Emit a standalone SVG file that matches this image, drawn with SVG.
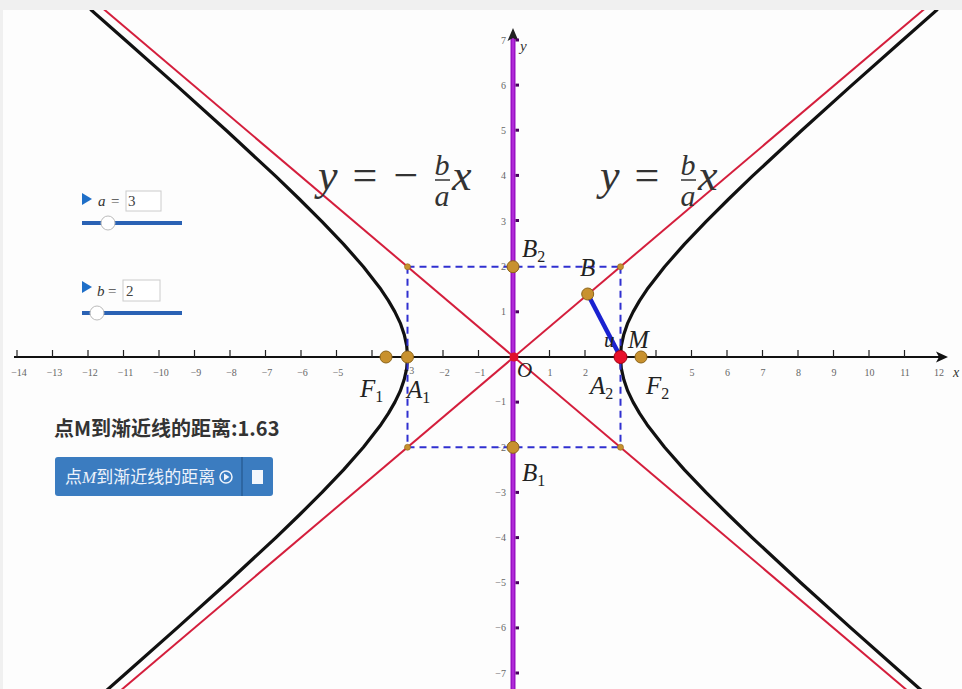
<svg xmlns="http://www.w3.org/2000/svg" width="962" height="689" viewBox="0 0 962 689">
<style>
.tick{stroke:#222;stroke-width:1.2}
.xl{font-family:"Liberation Serif",serif;font-size:10px;fill:#666;text-anchor:middle}
.yl{font-family:"Liberation Serif",serif;font-size:10px;fill:#666;text-anchor:end}
.lab{font-family:"Liberation Serif",serif;font-style:italic;font-size:25px;fill:#222}
.sub{font-size:16px;font-style:normal}
.math{font-family:"Liberation Serif",serif;font-size:44px;fill:#333}
.frac{font-family:"Liberation Serif",serif;font-style:italic;font-size:30px;fill:#333;text-anchor:middle}
.pt{fill:#c8912e;stroke:#8c6418;stroke-width:1}
.sm{fill:#c8912e;stroke:#8c6418;stroke-width:0.6}
.ydot{fill:#4a0060}
.sv{font-family:"Liberation Serif",serif;font-style:italic;font-size:15px;fill:#333}
.sn{font-family:"Liberation Serif",serif;font-size:15px;fill:#444}
</style>
<defs>
<clipPath id="plot"><rect x="3" y="10" width="959" height="679"/></clipPath>
</defs>
<rect x="0" y="0" width="962" height="689" fill="#f0f0f0"/>
<rect x="3" y="10" width="959" height="679" fill="#fdfdfd"/>

<g id="axes">
<line x1="14" y1="357" x2="940" y2="357" stroke="#111" stroke-width="2"/>
<polygon points="948,357 936,351.5 939,357 936,362.5" fill="#111"/>
<g class="tick">
<line x1="17" y1="350" x2="17" y2="357"/><line x1="52.5" y1="350" x2="52.5" y2="357"/><line x1="88" y1="350" x2="88" y2="357"/><line x1="123.5" y1="350" x2="123.5" y2="357"/><line x1="159" y1="350" x2="159" y2="357"/><line x1="194.5" y1="350" x2="194.5" y2="357"/><line x1="230" y1="350" x2="230" y2="357"/><line x1="265.5" y1="350" x2="265.5" y2="357"/><line x1="301" y1="350" x2="301" y2="357"/><line x1="336.5" y1="350" x2="336.5" y2="357"/><line x1="372" y1="350" x2="372" y2="357"/><line x1="407.5" y1="350" x2="407.5" y2="357"/><line x1="443" y1="350" x2="443" y2="357"/><line x1="478.5" y1="350" x2="478.5" y2="357"/><line x1="549.5" y1="350" x2="549.5" y2="357"/><line x1="585" y1="350" x2="585" y2="357"/><line x1="620.5" y1="350" x2="620.5" y2="357"/><line x1="656" y1="350" x2="656" y2="357"/><line x1="691.5" y1="350" x2="691.5" y2="357"/><line x1="727" y1="350" x2="727" y2="357"/><line x1="762.5" y1="350" x2="762.5" y2="357"/><line x1="798" y1="350" x2="798" y2="357"/><line x1="833.5" y1="350" x2="833.5" y2="357"/><line x1="869" y1="350" x2="869" y2="357"/><line x1="904.5" y1="350" x2="904.5" y2="357"/>
</g>
<g class="xl">
<text x="19" y="376">−14</text><text x="54.5" y="376">−13</text><text x="90" y="376">−12</text><text x="125.5" y="376">−11</text><text x="161" y="376">−10</text><text x="196" y="376">−9</text><text x="231.5" y="376">−8</text><text x="267" y="376">−7</text><text x="302.5" y="376">−6</text><text x="338" y="376">−5</text><text x="409" y="374">−3</text><text x="444.5" y="376">−2</text><text x="480" y="376">−1</text><text x="550" y="376">1</text><text x="585.5" y="376">2</text><text x="692" y="376">5</text><text x="727.5" y="376">6</text><text x="763" y="376">7</text><text x="798.5" y="376">8</text><text x="834" y="376">9</text><text x="869.5" y="376">10</text><text x="905" y="376">11</text><text x="939" y="376">12</text>
</g>
<text x="953" y="377" font-family="Liberation Serif,serif" font-style="italic" font-size="14" fill="#333">x</text>
<line x1="513" y1="36" x2="513" y2="689" stroke="#9a12c4" stroke-width="5"/>
<line x1="513" y1="36" x2="513" y2="689" stroke="#b02ad8" stroke-width="2"/>
<polygon points="513,28 507.5,41 513,38 518.5,41" fill="#222"/>
<g>
<rect class="ydot" x="515.5" y="38.5" width="3.5" height="3"/><rect class="ydot" x="515.5" y="83.6" width="3.5" height="3"/><rect class="ydot" x="515.5" y="128.7" width="3.5" height="3"/><rect class="ydot" x="515.5" y="173.9" width="3.5" height="3"/><rect class="ydot" x="515.5" y="219" width="3.5" height="3"/><rect class="ydot" x="515.5" y="310.3" width="3.5" height="3"/><rect class="ydot" x="515.5" y="400.6" width="3.5" height="3"/><rect class="ydot" x="515.5" y="490.9" width="3.5" height="3"/><rect class="ydot" x="515.5" y="536.1" width="3.5" height="3"/><rect class="ydot" x="515.5" y="581.2" width="3.5" height="3"/><rect class="ydot" x="515.5" y="626.4" width="3.5" height="3"/><rect class="ydot" x="515.5" y="671.5" width="3.5" height="3"/>
</g>
<g class="yl">
<text x="506" y="44">7</text><text x="506" y="89">6</text><text x="506" y="134">5</text><text x="506" y="179">4</text><text x="506" y="224.5">3</text><text x="506" y="270">2</text><text x="506" y="315">1</text><text x="506" y="405">−1</text><text x="506" y="451">−2</text><text x="506" y="496">−3</text><text x="506" y="541">−4</text><text x="506" y="586">−5</text><text x="506" y="631">−6</text><text x="506" y="677">−7</text>
</g>
<text x="520" y="51" font-family="Liberation Serif,serif" font-style="italic" font-size="15" fill="#333">y</text>
</g>

<g id="connectors" clip-path="url(#plot)">
<polyline id="right-branch" fill="none" stroke="#111" stroke-width="3.2" stroke-linejoin="round" points="937.6,9.35 901.7,40.95 850.8,86.1 800.8,131.25 752.1,176.4 728.7,199 706,221.55 684.5,244.1 664.6,266.7 647.1,289.3 639.6,300.6 633.1,311.85 627.7,323.1 623.8,334.4 621.3,345.7 620.5,357 621.3,368.3 623.8,379.6 627.7,390.9 633.1,402.15 639.6,413.4 647.1,424.7 664.6,447.3 684.5,469.9 706,492.45 728.7,515 752.1,537.6 800.8,582.75 850.8,627.9 901.7,673.05 937.6,704.65"/>
<polyline id="left-branch" fill="none" stroke="#111" stroke-width="3.2" stroke-linejoin="round" points="90.4,9.35 126.3,40.95 177.2,86.1 227.2,131.25 275.9,176.4 299.3,199 322,221.55 343.5,244.1 363.4,266.7 380.9,289.3 388.4,300.6 394.9,311.85 400.3,323.1 404.2,334.4 406.7,345.7 407.5,357 406.7,368.3 404.2,379.6 400.3,390.9 394.9,402.15 388.4,413.4 380.9,424.7 363.4,447.3 343.5,469.9 322,492.45 299.3,515 275.9,537.6 227.2,582.75 177.2,627.9 126.3,673.05 90.4,704.65"/>
<g fill="none" stroke="#3030d0" stroke-width="2" stroke-dasharray="7,5">
<line x1="407.5" y1="266.7" x2="620.5" y2="266.7"/>
<line x1="407.5" y1="447.3" x2="620.5" y2="447.3"/>
<line x1="407.5" y1="266.7" x2="407.5" y2="447.3"/>
<line x1="620.5" y1="266.7" x2="620.5" y2="447.3"/>
</g>
<line id="asymptote-pos" x1="0" y1="792.8" x2="962" y2="-22.9" stroke="#d41e3c" stroke-width="2"/>
<line id="asymptote-neg" x1="0" y1="-78.8" x2="962" y2="736.9" stroke="#d41e3c" stroke-width="2"/>
<line id="perpendicular" x1="587.7" y1="294" x2="620.5" y2="357" stroke="#1a22d0" stroke-width="4.5"/>
</g>

<g id="formula-left">
<text class="math" x="318" y="190" font-style="italic">y</text>
<text class="math" x="365" y="190" text-anchor="middle">=</text>
<text class="math" x="406" y="190" text-anchor="middle">−</text>
<text class="frac" x="442" y="175">b</text>
<line x1="435" y1="180" x2="450" y2="180" stroke="#333" stroke-width="1.5"/>
<text class="frac" x="442" y="206">a</text>
<text class="math" x="452" y="190" font-style="italic">x</text>
</g>
<g id="formula-right">
<text class="math" x="600" y="190" font-style="italic">y</text>
<text class="math" x="647" y="190" text-anchor="middle">=</text>
<text class="frac" x="688" y="175">b</text>
<line x1="681" y1="180" x2="696" y2="180" stroke="#333" stroke-width="1.5"/>
<text class="frac" x="688" y="206">a</text>
<text class="math" x="698" y="190" font-style="italic">x</text>
</g>

<g id="corners">
<circle class="sm" cx="407.5" cy="266.7" r="3"/>
<circle class="sm" cx="620.5" cy="266.7" r="3"/>
<circle class="sm" cx="407.5" cy="447.3" r="3"/>
<circle class="sm" cx="620.5" cy="447.3" r="3"/>
</g>
<g id="B2"><circle class="pt" cx="513" cy="266.7" r="6"/><text class="lab" x="522" y="257">B<tspan class="sub" dy="5">2</tspan></text></g>
<g id="B1"><circle class="pt" cx="513" cy="447.3" r="6"/><text class="lab" x="522" y="481">B<tspan class="sub" dy="5">1</tspan></text></g>
<g id="F1"><circle class="pt" cx="386" cy="357" r="6"/><text class="lab" x="360" y="397">F<tspan class="sub" dy="5">1</tspan></text></g>
<g id="A1"><circle class="pt" cx="407.5" cy="357" r="6"/><text class="lab" x="407" y="398">A<tspan class="sub" dy="5">1</tspan></text></g>
<g id="F2"><circle class="pt" cx="641" cy="357" r="6"/><text class="lab" x="646" y="394">F<tspan class="sub" dy="5">2</tspan></text></g>
<g id="A2"><text class="lab" x="590" y="394">A<tspan class="sub" dy="5">2</tspan></text></g>
<g id="B"><circle class="pt" cx="587.7" cy="294" r="6"/><text class="lab" x="580" y="276">B</text></g>
<g id="M"><circle cx="620.5" cy="357" r="6.5" fill="#e8102a" stroke="#a00010" stroke-width="1"/><text class="lab" x="628" y="348">M</text><text class="lab" x="604" y="347" style="font-size:21px">u</text></g>
<g id="O"><circle cx="514" cy="357" r="4.5" fill="#e0102c"/><text class="lab" x="517" y="377" style="font-size:21px">O</text></g>

<g id="slider-a">
<polygon points="82,193 82,205 92,199" fill="#1f6fc8"/>
<text class="sv" x="98" y="206">a</text>
<text class="sn" x="111" y="206">=</text>
<rect x="126" y="191" width="35" height="20" fill="#fff" stroke="#cccccc"/>
<text class="sn" x="128" y="206">3</text>
<line x1="82" y1="223" x2="182" y2="223" stroke="#2a62b4" stroke-width="4"/>
<circle cx="108" cy="223" r="7" fill="#fff" stroke="#bbbbbb"/>
</g>
<g id="slider-b">
<polygon points="82,281 82,293 92,287" fill="#1f6fc8"/>
<text class="sv" x="97" y="296">b</text>
<text class="sn" x="108" y="296">=</text>
<rect x="123" y="280" width="37" height="21" fill="#fff" stroke="#cccccc"/>
<text class="sn" x="126" y="296">2</text>
<line x1="82" y1="313" x2="182" y2="313" stroke="#2a62b4" stroke-width="4"/>
<circle cx="97" cy="313" r="7" fill="#fff" stroke="#bbbbbb"/>
</g>

<g id="distance-text">
<text x="54" y="436" font-family="Noto Sans CJK SC,Noto Sans,sans-serif" font-weight="bold" font-size="20" fill="#333">点M到渐近线的距离:1.63</text>
</g>
<g id="button">
<rect x="55" y="457" width="218" height="39" rx="3" fill="#3b7cc0"/>
<line x1="242" y1="457" x2="242" y2="496" stroke="#2a5f98" stroke-width="1.5"/>
<text x="65" y="483" font-family="Noto Sans CJK SC,sans-serif" font-size="17" fill="#eef3fb">点<tspan font-family="Liberation Serif,serif" font-style="italic">M</tspan>到渐近线的距离</text>
<circle cx="226" cy="477" r="6" fill="none" stroke="#eef3fb" stroke-width="1.5"/>
<polygon points="224,473.5 224,480.5 229.5,477" fill="#eef3fb"/>
<rect x="252" y="470" width="11" height="14" fill="#f4f7fc"/>
</g>
</svg>
